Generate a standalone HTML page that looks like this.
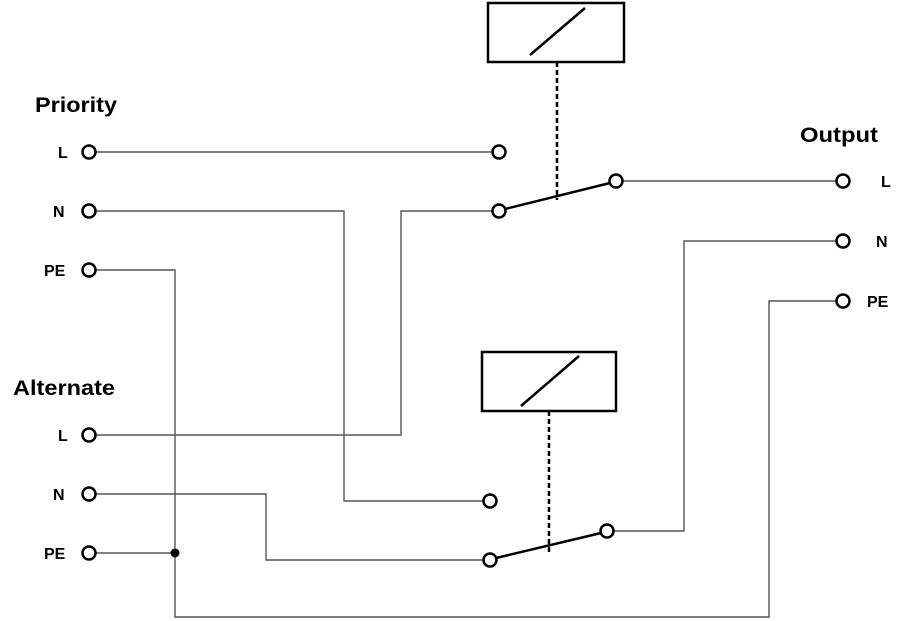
<!DOCTYPE html>
<html><head><style>body{margin:0;background:#fff}svg{display:block}</style></head><body>
<svg width="904" height="621" xmlns="http://www.w3.org/2000/svg" font-family="Liberation Sans, sans-serif" font-weight="bold">
<g fill="none" stroke="#555" stroke-width="1.4">
<path d="M96 152H492"/>
<path d="M96 211H344V501H483"/>
<path d="M96 270H175V617H769V301H836"/>
<path d="M96 435H401V211H492"/>
<path d="M623 181H836"/>
<path d="M96 494H266V560H483"/>
<path d="M96 553H175"/>
<path d="M614 531H684V241H836"/>
</g>
<g fill="none" stroke="#000" stroke-width="2.5">
<rect x="488" y="3" width="136" height="59"/>
<path d="M530 55L585 8"/>
<rect x="482" y="352" width="134" height="59"/>
<path d="M521 406L579 356"/>
<path d="M505 209L610 183"/>
<path d="M496 558L601 533"/>
<path d="M557 62V200M549 411V552" stroke-dasharray="5,3"/>
</g>
<g fill="#fff" stroke="#000" stroke-width="2.5">
<circle cx="89" cy="152" r="6.5"/><circle cx="89" cy="211" r="6.5"/><circle cx="89" cy="270" r="6.5"/>
<circle cx="89" cy="435" r="6.5"/><circle cx="89" cy="494" r="6.5"/><circle cx="89" cy="553" r="6.5"/>
<circle cx="499" cy="152" r="6.5"/><circle cx="499" cy="211" r="6.5"/><circle cx="616" cy="181" r="6.5"/>
<circle cx="490" cy="501" r="6.5"/><circle cx="490" cy="560" r="6.5"/><circle cx="607" cy="531" r="6.5"/>
<circle cx="843" cy="181" r="6.5"/><circle cx="843" cy="241" r="6.5"/><circle cx="843" cy="301" r="6.5"/>
</g>
<circle cx="175" cy="553" r="4.5" fill="#000"/>
<g font-size="21">
<text x="35" y="112" textLength="82" lengthAdjust="spacingAndGlyphs">Priority</text>
<text x="13" y="395" textLength="102" lengthAdjust="spacingAndGlyphs">Alternate</text>
<text x="800" y="142" textLength="78" lengthAdjust="spacingAndGlyphs">Output</text>
</g>
<g font-size="16">
<text x="58" y="158">L</text><text x="53" y="217">N</text><text x="44" y="276">PE</text>
<text x="58" y="441">L</text><text x="53" y="500">N</text><text x="44" y="559">PE</text>
<text x="881" y="187">L</text><text x="876" y="247">N</text><text x="867" y="307">PE</text>
</g>
</svg>
</body></html>
